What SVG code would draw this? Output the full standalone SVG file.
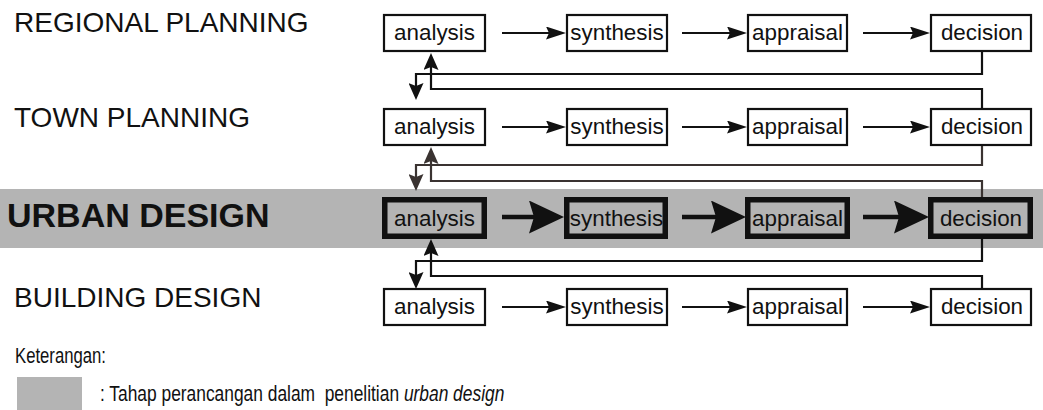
<svg xmlns="http://www.w3.org/2000/svg" width="1043" height="410" viewBox="0 0 1043 410">
  <defs>
    <style>
      text { font-family: "Liberation Sans", Arial, sans-serif; fill: #111; }
      .lvl { font-size: 28px; }
      .lvl-main { font-size: 34px; font-weight: bold; }
      .box rect { fill: #fff; stroke: #111; stroke-width: 2.2; }
      .box.main rect { fill: none; stroke-width: 5.5; }
      .box text { font-size: 22.4px; text-anchor: middle; }
      .flow { stroke: #111; stroke-width: 2.2; fill: none; }
      .flow.main { stroke-width: 4.5; }
      .link { stroke: #111; stroke-width: 2.2; fill: none; }
      .link.mid { stroke: #3a3331; }
      .band { fill: #b4b4b4; }
      .legend { font-size: 22px; }
    </style>
    <marker id="ah" markerUnits="userSpaceOnUse" markerWidth="20" markerHeight="13" refX="10" refY="6.5" orient="auto">
      <path d="M0,0 L20,6.5 L0,13 L3,6.5 z" fill="#111"/>
    </marker>
    <marker id="ahMain" markerUnits="userSpaceOnUse" markerWidth="35" markerHeight="33" refX="17" refY="16.5" orient="auto">
      <path d="M0,0 L35,16.5 L0,33 L5,16.5 z" fill="#111"/>
    </marker>
    <marker id="av" markerUnits="userSpaceOnUse" markerWidth="17" markerHeight="15" refX="8" refY="7.5" orient="auto">
      <path d="M0,0 L17,7.5 L0,15 L3,7.5 z" fill="#111"/>
    </marker>
    <marker id="avMid" markerUnits="userSpaceOnUse" markerWidth="17" markerHeight="15" refX="8" refY="7.5" orient="auto">
      <path d="M0,0 L17,7.5 L0,15 L3,7.5 z" fill="#3a3331"/>
    </marker>
  </defs>

  <!-- highlighted urban design stage -->
  <rect class="band" x="0" y="189" width="1043" height="59"/>

  <!-- level labels -->
  <g id="labels">
    <text class="lvl" x="14" y="32">REGIONAL PLANNING</text>
    <text class="lvl" x="14" y="127">TOWN PLANNING</text>
    <text class="lvl-main" x="7" y="227">URBAN DESIGN</text>
    <text class="lvl" x="14" y="307">BUILDING DESIGN</text>
  </g>

  <!-- connectors -->
  <g id="connectors">
    <!-- horizontal flow within each level -->
    <g id="flow-regional">
      <line class="flow" x1="502" y1="33" x2="556" y2="33" marker-end="url(#ah)"/>
      <line class="flow" x1="682" y1="33" x2="737" y2="33" marker-end="url(#ah)"/>
      <line class="flow" x1="863" y1="33" x2="920" y2="33" marker-end="url(#ah)"/>
    </g>
    <g id="flow-town">
      <line class="flow" x1="502" y1="127" x2="556" y2="127" marker-end="url(#ah)"/>
      <line class="flow" x1="682" y1="127" x2="737" y2="127" marker-end="url(#ah)"/>
      <line class="flow" x1="863" y1="127" x2="920" y2="127" marker-end="url(#ah)"/>
    </g>
    <g id="flow-urban">
      <line class="flow main" x1="502" y1="217" x2="546" y2="217" marker-end="url(#ahMain)"/>
      <line class="flow main" x1="682" y1="217" x2="728" y2="217" marker-end="url(#ahMain)"/>
      <line class="flow main" x1="863" y1="217" x2="911" y2="217" marker-end="url(#ahMain)"/>
    </g>
    <g id="flow-building">
      <line class="flow" x1="502" y1="307" x2="556" y2="307" marker-end="url(#ah)"/>
      <line class="flow" x1="682" y1="307" x2="737" y2="307" marker-end="url(#ah)"/>
      <line class="flow" x1="863" y1="307" x2="920" y2="307" marker-end="url(#ah)"/>
    </g>

    <!-- regional <-> town -->
    <polyline class="link" points="982,52 982,74 416,74 416,91" marker-end="url(#av)"/>
    <polyline class="link" points="982,108 982,89 431,89 431,62" marker-end="url(#av)"/>
    <!-- town <-> urban -->
    <polyline class="link mid" points="982,146 982,165 416,165 416,182" marker-end="url(#avMid)"/>
    <polyline class="link mid" points="982,197 982,181 431,181 431,156" marker-end="url(#avMid)"/>
    <!-- urban <-> building -->
    <polyline class="link" points="982,238 982,261 416,261 416,280" marker-end="url(#av)"/>
    <polyline class="link" points="982,288 982,276 431,276 431,248" marker-end="url(#av)"/>
  </g>

  <!-- regional planning stages -->
  <g id="regional-analysis" class="box"><rect x="384" y="15" width="101" height="36"/><text x="434.5" y="40">analysis</text></g>
  <g id="regional-synthesis" class="box"><rect x="567" y="15" width="100" height="36"/><text x="617" y="40">synthesis</text></g>
  <g id="regional-appraisal" class="box"><rect x="748" y="15" width="99" height="36"/><text x="797.5" y="40">appraisal</text></g>
  <g id="regional-decision" class="box"><rect x="931" y="15" width="100" height="36"/><text x="982" y="40">decision</text></g>

  <!-- town planning stages -->
  <g id="town-analysis" class="box"><rect x="384" y="109" width="101" height="36"/><text x="434.5" y="134">analysis</text></g>
  <g id="town-synthesis" class="box"><rect x="567" y="109" width="100" height="36"/><text x="617" y="134">synthesis</text></g>
  <g id="town-appraisal" class="box"><rect x="748" y="109" width="99" height="36"/><text x="797.5" y="134">appraisal</text></g>
  <g id="town-decision" class="box"><rect x="931" y="109" width="100" height="36"/><text x="982" y="134">decision</text></g>

  <!-- urban design stages -->
  <g id="urban-analysis" class="box main"><rect x="384.75" y="199.75" width="99.5" height="36.5"/><text x="434.5" y="225.5">analysis</text></g>
  <g id="urban-synthesis" class="box main"><rect x="566.75" y="199.75" width="98.5" height="36.5"/><text x="616.5" y="225.5">synthesis</text></g>
  <g id="urban-appraisal" class="box main"><rect x="747.75" y="199.75" width="99.5" height="36.5"/><text x="797.5" y="225.5">appraisal</text></g>
  <g id="urban-decision" class="box main"><rect x="930.75" y="199.75" width="99.5" height="36.5"/><text x="981" y="225.5">decision</text></g>

  <!-- building design stages -->
  <g id="building-analysis" class="box"><rect x="384" y="289" width="101" height="36"/><text x="434.5" y="314">analysis</text></g>
  <g id="building-synthesis" class="box"><rect x="567" y="289" width="100" height="36"/><text x="617" y="314">synthesis</text></g>
  <g id="building-appraisal" class="box"><rect x="748" y="289" width="99" height="36"/><text x="797.5" y="314">appraisal</text></g>
  <g id="building-decision" class="box"><rect x="931" y="289" width="100" height="36"/><text x="982" y="314">decision</text></g>

  <!-- legend (narrow lettering via horizontal scaling) -->
  <g id="legend">
    <text class="legend" transform="translate(15,363) scale(0.76,1)">Keterangan:</text>
    <rect class="band" x="17" y="377" width="65" height="33"/>
    <text class="legend" transform="translate(100,401) scale(0.79,1)" xml:space="preserve">: Tahap perancangan dalam  penelitian <tspan font-style="italic">urban design</tspan></text>
  </g>
</svg>
